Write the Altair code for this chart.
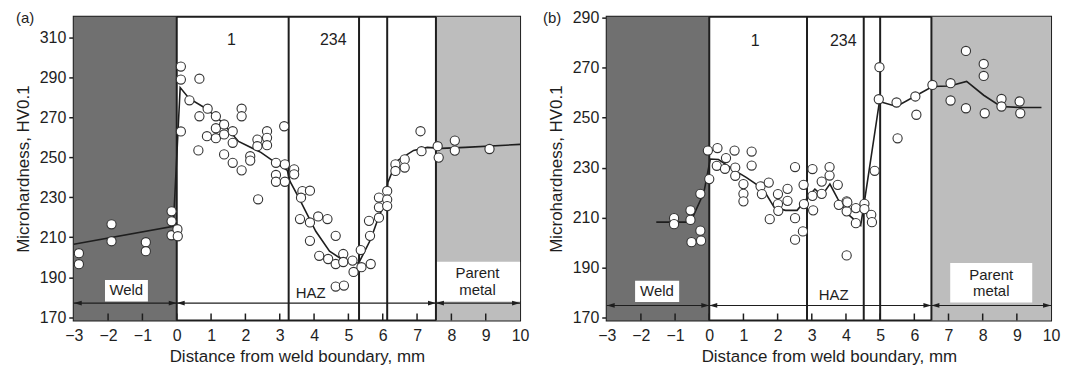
import altair as alt
import pandas as pd

# ---------------- Panel (a) data ----------------
a_px = [-2.85, -2.85, -1.9, -1.9, -0.9, -0.9, -0.15, -0.15, -0.15, 0.02, 0.03,
        0.12, 0.12, 0.12, 0.37, 0.66, 0.66, 0.63, 0.9, 0.88, 1.14, 1.14, 1.14,
        1.38, 1.38, 1.38, 1.63, 1.63, 1.63, 1.89, 1.89, 1.89, 2.14, 2.14, 2.37,
        2.35, 2.35, 2.63, 2.63, 2.63, 2.89, 2.89, 2.89, 3.13, 3.15, 3.15,
        3.42, 3.42, 3.66, 3.62, 3.88, 3.59, 3.88, 4.12, 4.39, 3.88, 4.63, 4.15,
        4.41, 4.63, 4.85, 4.85, 4.63, 4.87, 5.12, 5.15, 5.36, 5.38, 5.65, 5.63,
        5.6, 5.89, 5.89, 5.89, 6.13, 6.13, 6.13, 6.37, 6.37, 6.64, 6.64, 7.1, 7.13,
        7.6, 7.63, 8.1, 8.1, 9.11]
a_py = [202, 196.5, 216.5, 208, 207.5, 203, 223, 218, 211, 214, 210.5,
        295.5, 289, 263, 278.6, 289.4, 270.6, 253.5, 274.4, 260.6, 270.6, 264.6, 259.6,
        266.5, 261.5, 251.5, 263.1, 257.3, 247.3, 274.4, 270.6, 243.5, 250.6, 248.4, 229,
        258.9, 255.6, 263.1, 259.8, 256.1, 247.3, 241.2, 237.8, 265.6, 246.5, 237.8,
        244, 241.5, 233.1, 229.8, 233.3, 219.1, 217.4, 220.4, 219.1, 208.2, 210.7, 200.7,
        199.1, 196.6, 201.6, 197.6, 185.3, 185.8, 198.3, 192.6, 203.6, 195, 196.6, 210.7,
        218.2, 225, 229.9, 219.8, 233.2, 228.9, 225.6, 246.5, 243.2, 249, 244.9, 263.1, 253.1,
        255.6, 249.9, 258.4, 253.4, 254.2]
a_lx = [-3, -0.1, 0.1, 0.36, 0.85, 1.3, 1.8, 2.45, 2.95, 3.22, 3.3, 3.55, 4.05, 4.45,
        4.85, 5.3, 5.65, 5.9, 6.1, 6.15, 6.4, 6.9, 7.3, 7.7, 8.4, 10]
a_ly = [206.5, 215.5, 285, 279.5, 274.5, 268, 258, 252.5, 246.5, 243.5, 238, 230, 213, 203,
        198.5, 197, 209, 221, 228, 237.5, 248, 253.5, 255, 254.5, 255, 256.5]
a_zone_lines = [0, 3.26, 5.31, 6.13, 7.55]
a_ydom = [168.3, 320.5]
a_yticks = [170, 190, 210, 230, 250, 270, 290, 310]
a_weld = [-3, 0]
a_parent = [7.55, 10]
a_weld_box = [-2.09, -0.84, 177.8, 188.6]
a_parent_box = [7.55, 10, 177.8, 197.7]
a_arrow_y = 177
a_arrow_segments = [-3, 0, 7.55, 10]
a_labels = ["1", "234", "HAZ", "Weld", "Parent", "metal"]
a_label_x = [1.59, 4.56, 3.9, -1.47, 8.76, 8.76]
a_label_y = [308.8, 308.8, 181.9, 183.4, 191.9, 183.6]

# ---------------- Panel (b) data ----------------
b_px = [-1.03, -1.03, -0.55, -0.55, -0.52, -0.26, -0.26, -0.24, -0.04, 0.0,
        0.24, 0.22, 0.49, 0.46, 0.74, 0.76, 0.76, 1.0, 1.0, 1.0, 1.24, 1.24, 1.5, 1.54,
        1.74, 1.77, 2.01, 2.01, 2.02, 2.29, 2.29, 2.51, 2.51, 2.51, 2.76, 2.77, 2.74,
        3.02, 3.02, 3.04, 3.29, 3.29, 3.52, 3.52, 3.76, 3.79, 4.02, 4.02, 4.04, 4.02,
        4.29, 4.29, 4.54, 4.54, 4.74, 4.76, 4.84, 4.98, 4.96,
        5.48, 5.51, 6.03, 6.06,
        6.53, 7.06, 7.06, 7.51, 7.51, 8.03, 8.03, 8.06, 8.55, 8.55, 9.08, 9.1]
b_py = [209.9, 207.5, 213, 209.2, 200.3, 219.6, 204.9, 200.9, 236.9, 225.5,
        237.9, 230.8, 233.9, 229.6, 236.9, 230.1, 226.8, 223.5, 219.6, 216.6, 236.5, 230.9,
        222.6, 219.5, 224.1, 209.5, 219.5, 215.5, 212.8, 221.6, 216.8, 230.3, 209.9, 201.3,
        223.2, 215.5, 204.6, 229.5, 218.8, 213, 224.5, 219.6, 230.3, 226.9, 223.2, 215.2,
        216.6, 212.6, 216.2, 195, 213.9, 207.9, 215.6, 213.5, 211.2, 208.3, 228.8, 270.2,
        257.4, 256.1, 241.8, 258.5, 251.2,
        263.1, 263.8, 256.9, 276.7, 253.8, 271.5, 266.7, 251.8, 257.5, 254.5, 256.5, 251.8]
b_lx = [-1.55, -0.55, -0.16, 0.03, 0.27, 0.8, 1.08, 1.37, 1.66, 1.9, 2.23, 2.57, 2.85,
        3.09, 3.3, 3.53, 3.76, 4.05, 4.43, 4.53, 4.98, 5.48, 6.03, 6.53, 7.03, 7.53, 8.03,
        8.53, 9.13, 9.72]
b_ly = [208.3, 208.3, 220, 233.5, 233.3, 228.5, 226.2, 223.5, 219.6, 214.2, 213, 213, 217.6,
        221.5, 219, 223.5, 217.6, 211.6, 207, 215.6, 256.5, 254.5, 258.7, 262.5, 262.7,
        264.5, 259, 254.5, 254.1, 254.1]
b_zone_lines = [0, 2.86, 4.52, 5.0, 6.5]
b_ydom = [169, 290.4]
b_yticks = [170, 190, 210, 230, 250, 270, 290]
b_weld = [-3, 0]
b_parent = [6.5, 10]
b_weld_box = [-2.17, -0.88, 176.4, 184.9]
b_parent_box = [7.05, 9.45, 176.2, 192]
b_arrow_y = 175
b_arrow_segments = [-3, 0, 6.5, 10]
b_labels = ["1", "234", "HAZ", "Weld", "Parent", "metal"]
b_label_x = [1.34, 3.92, 3.64, -1.53, 8.25, 8.25]
b_label_y = [280.7, 280.7, 179.3, 180.6, 187.3, 180.6]

x_ticks = list(range(-3, 11))
inner_ticks = list(range(-2, 10))

WELD_GREY = "#707070"
PARENT_GREY = "#bdbdbd"
INK = "#1e1e1e"
FONT = "Liberation Sans"

ARROW_R = "M0,0L-2,-0.6L-2,0.6Z"
ARROW_L = "M0,0L2,-0.6L2,0.6Z"


def panel(letter, px, py, lx, ly, zone_lines, ydom, yticks, weld, parent,
          weld_box, parent_box, arrow_y, segs, labels, lab_x, lab_y, width):
    xs = alt.Scale(domain=[-3, 10], nice=False, zero=False)
    ys = alt.Scale(domain=ydom, nice=False, zero=False)
    ax = alt.Axis(values=x_ticks, title="Distance from weld boundary, mm", ticks=False,
                  labelPadding=7, titlePadding=5, domain=False, grid=False,
                  labelFlush=False, format="d")
    ay = alt.Axis(values=yticks, title="Microhardness, HV0.1", tickSize=5, tickWidth=1.5,
                  tickColor=INK, labelPadding=3, titlePadding=7, domain=False, grid=False,
                  labelFlush=False, format="d")

    def X(f):
        return alt.X(f, scale=xs, axis=ax)

    def Y(f):
        return alt.Y(f, scale=ys, axis=ay)

    regions = pd.DataFrame({
        "x0": [weld[0], parent[0], weld_box[0], parent_box[0]],
        "x1": [weld[1], parent[1], weld_box[1], parent_box[1]],
        "y0": [ydom[0], ydom[0], weld_box[2], parent_box[2]],
        "y1": [ydom[1], ydom[1], weld_box[3], parent_box[3]],
        "fill": [WELD_GREY, PARENT_GREY, "white", "white"],
    })
    rect = alt.Chart(regions).mark_rect(strokeWidth=0).encode(
        x=X("x0:Q"), x2="x1:Q", y=Y("y0:Q"), y2="y1:Q",
        fill=alt.Fill("fill:N", scale=None),
    )

    zl = alt.Chart(pd.DataFrame({"x": zone_lines})).mark_rule(
        color=INK, strokeWidth=2).encode(x=X("x:Q"))

    tk = alt.Chart(pd.DataFrame({
        "x": inner_ticks,
        "y0": [ydom[0]] * len(inner_ticks),
        "y1": [ydom[0] + 7.0 * (ydom[1] - ydom[0]) / 305] * len(inner_ticks),
    })).mark_rule(color=INK, strokeWidth=1.5).encode(
        x=X("x:Q"), y=Y("y0:Q"), y2="y1:Q")

    arrow_line = alt.Chart(pd.DataFrame({"x0": [segs[0]], "x1": [segs[-1]], "y": [arrow_y]})).mark_rule(
        color=INK, strokeWidth=1.2).encode(x=X("x0:Q"), x2="x1:Q", y=Y("y:Q"))

    heads = pd.DataFrame({
        "x": segs[1:] + segs[:-1],
        "y": [arrow_y] * (2 * (len(segs) - 1)),
        "dir": ["R"] * (len(segs) - 1) + ["L"] * (len(segs) - 1),
    })
    arrow_heads = alt.Chart(heads).mark_point(filled=True, color=INK, size=64, opacity=1).encode(
        x=X("x:Q"), y=Y("y:Q"),
        shape=alt.Shape("dir:N", scale=alt.Scale(domain=["R", "L"], range=[ARROW_R, ARROW_L]), legend=None))

    line = alt.Chart(pd.DataFrame({"x": lx, "y": ly, "i": list(range(len(lx)))})).mark_line(
        color=INK, strokeWidth=1.6).encode(x=X("x:Q"), y=Y("y:Q"), order="i:Q")

    pts = alt.Chart(pd.DataFrame({"x": px, "y": py})).mark_point(
        shape="circle", filled=True, fill="white", stroke="#333333", strokeWidth=1.1,
        size=85, opacity=1, fillOpacity=1).encode(x=X("x:Q"), y=Y("y:Q"))

    texts = alt.Chart(pd.DataFrame({
        "x": lab_x, "y": lab_y, "t": labels,
        "fs": [16, 16, 15, 15, 15, 15]})).mark_text(
        font=FONT, color=INK, align="center", baseline="middle").encode(
        x=X("x:Q"), y=Y("y:Q"), text="t:N",
        size=alt.Size("fs:Q", scale=None, legend=None))

    tag = alt.Chart(pd.DataFrame({"t": [letter]})).mark_text(
        font=FONT, fontSize=15, color=INK, align="left", baseline="middle").encode(
        x=alt.value(-58 if letter == "(a)" else -64), y=alt.value(1), text="t:N")

    return alt.layer(rect, zl, tk, arrow_line, arrow_heads, line, pts, texts, tag).properties(
        width=width, height=305)


pa = panel("(a)", a_px, a_py, a_lx, a_ly, a_zone_lines, a_ydom, a_yticks, a_weld, a_parent,
           a_weld_box, a_parent_box, a_arrow_y, a_arrow_segments, a_labels, a_label_x,
           a_label_y, 448)
pb = panel("(b)", b_px, b_py, b_lx, b_ly, b_zone_lines, b_ydom, b_yticks, b_weld, b_parent,
           b_weld_box, b_parent_box, b_arrow_y, b_arrow_segments, b_labels, b_label_x,
           b_label_y, 446)

chart = alt.hconcat(pa, pb, spacing=12).properties(
    padding={"left": 5, "top": 0, "right": 0, "bottom": 0},
    background="white",
).configure_view(
    stroke=INK, strokeWidth=2
).configure_axis(
    labelFont=FONT, titleFont=FONT, labelFontSize=16, titleFontSize=17,
    titleFontWeight="normal", labelColor=INK, titleColor=INK
)

chart.save("out.html", embed_options={"renderer": "svg", "actions": False})
